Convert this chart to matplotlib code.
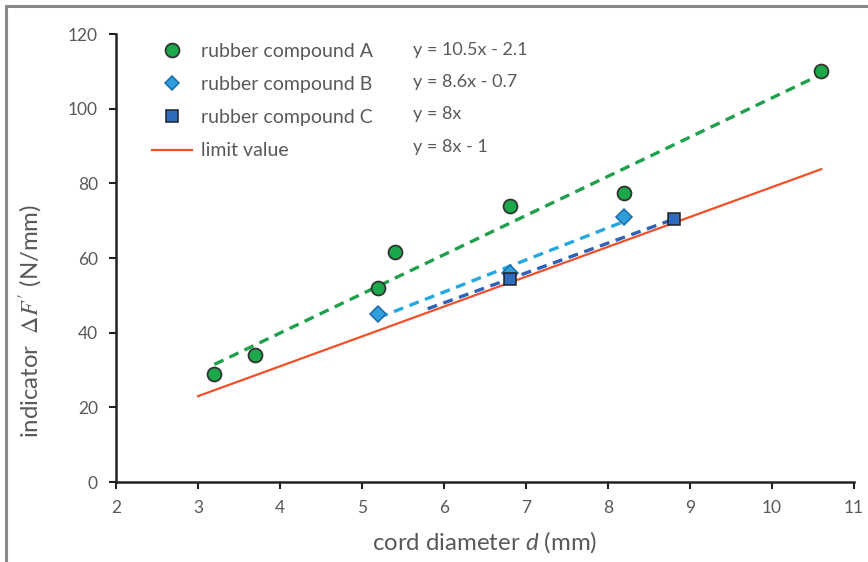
import matplotlib
matplotlib.use("Agg")
import matplotlib.pyplot as plt
from matplotlib.lines import Line2D
from matplotlib.patches import Rectangle
import numpy as np

plt.rcParams['font.family'] = ['Lato', 'DejaVu Sans']
plt.rcParams['mathtext.fontset'] = 'custom'
plt.rcParams['mathtext.it'] = 'Lato:italic'
plt.rcParams['mathtext.rm'] = 'Lato'

# data
a_x = [3.2, 3.7, 5.2, 5.4, 6.8, 8.2, 10.6]
a_y = [29, 34, 52, 61.5, 74, 77.5, 110]
b_x = [5.2, 6.8, 8.2]
b_y = [45, 56, 71]
c_x = [6.8, 8.8]
c_y = [54.5, 70.5]

# trend line parameters (slope, intercept, x-range)
a_fit = (10.5, -2.1, 3.2, 10.6)
b_fit = (8.6, -0.7, 5.2, 8.2)
c_fit = (8.0, 0.0, 5.8, 8.8)
limit_fit = (8.0, -1.0, 3.0, 10.6)

labels = ["rubber compound A", "rubber compound B", "rubber compound C", "limit value"]
equations = ["y = 10.5x - 2.1", "y = 8.6x - 0.7", "y = 8x", "y = 8x - 1"]

x_ticks = list(range(2, 12))
y_ticks = list(range(0, 121, 20))

TXT = '#595959'
GREEN = '#1aa84a'
LBLUE = '#2d9fdc'
DBLUE = '#2e6cc0'
ORANGE = '#f05028'

fig = plt.figure(figsize=(8.68, 5.62), dpi=100)
ax = fig.add_axes([0.1336, 0.1423, 0.984 - 0.1336, 0.9395 - 0.1423])

def line(fit, **kw):
    m, b, x0, x1 = fit
    xs = np.array([x0, x1])
    ax.plot(xs, m * xs + b, **kw)

line(limit_fit, color=ORANGE, lw=1.6, zorder=2)
line(a_fit, color='#1fa04c', lw=2.4, ls=(0, (3, 2)), zorder=2)
line(b_fit, color='#25a8e0', lw=2.4, ls=(0, (3, 2)), zorder=2)
line(c_fit, color='#2e62b5', lw=2.4, ls=(0, (3, 2)), zorder=2)

ax.plot(a_x, a_y, 'o', ms=10, mfc=GREEN, mec='#333333', mew=1.3, zorder=4)
ax.plot(b_x, b_y, 'D', ms=8, mfc=LBLUE, mec='#1f6aa8', mew=1.1, zorder=4)
ax.plot(c_x, c_y, 's', ms=8, mfc=DBLUE, mec='#222222', mew=1.1, zorder=5)

ax.set_xlim(2, 11)
ax.set_ylim(0, 120)
ax.set_xticks(x_ticks)
ax.set_yticks(y_ticks)
ax.tick_params(direction='out', length=5, width=1.5, color='#222222',
               labelcolor=TXT, labelsize=12.5, pad=8)
for s in ['top', 'right']:
    ax.spines[s].set_visible(False)
for s in ['left', 'bottom']:
    ax.spines[s].set_linewidth(1.8)
    ax.spines[s].set_color('#222222')

ax.set_xlabel(r"cord diameter $d$ (mm)", fontsize=17.3, color=TXT)
ax.xaxis.set_label_coords(0.5, -0.105)
ax.set_ylabel(r"indicator  $\Delta F'$ (N/mm)", fontsize=17.3, color=TXT,
              math_fontfamily='stix')
ax.yaxis.set_label_coords(-0.096, 0.36)

handles = [
    Line2D([], [], ls='none', marker='o', ms=10, mfc=GREEN, mec='#333333', mew=1.3),
    Line2D([], [], ls='none', marker='D', ms=7, mfc=LBLUE, mec='#1f6aa8', mew=1.1),
    Line2D([], [], ls='none', marker='s', ms=8, mfc=DBLUE, mec='#222222', mew=1.1),
    Line2D([], [], color=ORANGE, lw=1.6),
]
leg = fig.legend(handles, labels, loc='upper left',
                 bbox_to_anchor=(152 / 868, 1 - 43 / 562), frameon=False,
                 fontsize=14, labelcolor=TXT, handlelength=2.05,
                 handletextpad=0.46, labelspacing=0.83, borderpad=0,
                 borderaxespad=0)

eq_y = [50, 82, 114, 147]
for eq, yy in zip(equations, eq_y):
    fig.text(413 / 868, 1 - yy / 562, eq, fontsize=13, color=TXT,
             ha='left', va='center')

fig.patches.append(Rectangle((6 / 868, -0.1), 1.2, (1 - 6 / 562) + 0.1,
                             transform=fig.transFigure, fill=False,
                             edgecolor='#8a8a8a', lw=2.2))

fig.savefig("out.png", dpi=100)
